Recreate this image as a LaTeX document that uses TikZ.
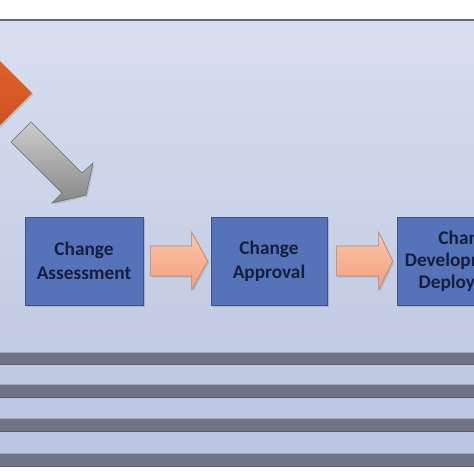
\documentclass[tikz,border=0pt]{standalone}
\usepackage{fontspec}
\setmainfont{Carlito}
\usetikzlibrary{calc,shadows}
\definecolor{bgtop}{RGB}{216,222,238}
\definecolor{bgbot}{RGB}{186,196,224}
\definecolor{band}{RGB}{112,116,134}
\definecolor{bandedge}{RGB}{160,168,192}
\definecolor{boxfill}{RGB}{86,114,184}
\definecolor{boxline}{RGB}{62,82,140}
\definecolor{boxtext}{RGB}{20,30,62}
\definecolor{peachtop}{RGB}{252,196,170}
\definecolor{peachbot}{RGB}{242,160,125}
\definecolor{peachline}{RGB}{175,135,120}
\definecolor{graytop}{RGB}{205,205,205}
\definecolor{graybot}{RGB}{135,135,135}
\definecolor{grayline}{RGB}{105,105,105}
\definecolor{orangetop}{RGB}{228,104,46}
\definecolor{orangebot}{RGB}{200,76,30}
\begin{document}
\begin{tikzpicture}[x=1pt,y=-1pt,
  stepbox/.style={draw=boxline, line width=0.8pt, fill=boxfill, text=boxtext,
    minimum width=118pt, minimum height=88pt, inner sep=0pt, align=center,
    font=\fontsize{19.3}{24}\selectfont\bfseries,
    drop shadow={shadow xshift=2pt, shadow yshift=-2pt, opacity=0.35}},
  peacharrow/.style={top color=peachtop, bottom color=peachbot, draw=peachline, line width=0.6pt,
    drop shadow={shadow xshift=1.5pt, shadow yshift=-1.5pt, opacity=0.3}},
  grayarrow/.style={top color=graytop, bottom color=graybot, draw=grayline, line width=0.5pt,
    drop shadow={shadow xshift=1.5pt, shadow yshift=-1.5pt, opacity=0.3}},
  bandstripe/.style={fill=band}
]
\useasboundingbox (0,0) rectangle (474,474);
\clip (0,0) rectangle (474,474);
\fill[white] (0,0) rectangle (474,474);
% background panel
\shade[top color=bgtop, bottom color=bgbot] (0,20) rectangle (474,466);
\draw[gray!80!black, line width=1.5pt] (0,20) -- (474,20);
% stripes
\foreach \ya/\yb in {352/364, 384/397, 418/431, 453/466}{
  \fill[band] (0,\ya) rectangle (474,\yb);
  \draw[bandedge, line width=0.8pt] (0,\ya) -- (474,\ya);
  \draw[band!80!black, line width=0.8pt] (0,\yb) -- (474,\yb);
}
% orange diamond (mostly outside)
\shade[top color=orangetop, bottom color=orangebot, drop shadow={shadow xshift=1.5pt, shadow yshift=-1.5pt, opacity=0.3}]
  (32,93) -- (-30,31) -- (-92,93) -- (-30,155) -- cycle;
% gray arrow
\coordinate (g1) at (31,122);
\coordinate (g2) at (82,173);
\coordinate (g3) at (93,163);
\coordinate (gt) at (86,195);
\coordinate (g5) at (52,203);
\coordinate (g6) at (62,193);
\coordinate (g7) at (11,142);
\draw[grayarrow] (g1) -- (g2) -- (g3) -- (gt) -- (g5) -- (g6) -- (g7) -- cycle;
% boxes
\node[stepbox] (a) at (84,261) {Change\\Assessment};
\node[stepbox, minimum width=116pt] (b) at (269,261) {Change\\Approval};
\node[stepbox, minimum width=142pt, font=\fontsize{19.3}{22}\selectfont\bfseries] (c) at (468,261) {Change\\Development \&\\Deployment};
% block arrows
\draw[peacharrow] ($(a.east)+(7,-15)$) -- ($(b.west)+(-19,-15)$) -- ($(b.west)+(-19,-29)$)
  -- ($(b.west)+(-3,0)$) -- ($(b.west)+(-19,29)$) -- ($(b.west)+(-19,15)$) -- ($(a.east)+(7,15)$) -- cycle;
\draw[peacharrow] ($(b.east)+(9,-15)$) -- ($(c.west)+(-18,-15)$) -- ($(c.west)+(-18,-29)$)
  -- ($(c.west)+(-4,0)$) -- ($(c.west)+(-18,29)$) -- ($(c.west)+(-18,15)$) -- ($(b.east)+(9,15)$) -- cycle;
\end{tikzpicture}
\end{document}
